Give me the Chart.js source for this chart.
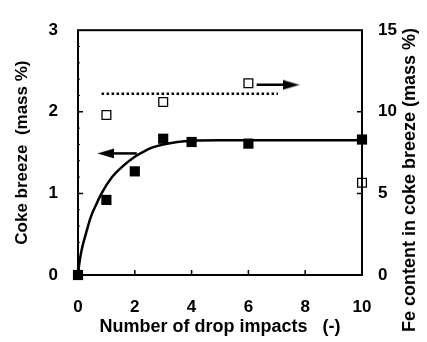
<!DOCTYPE html>
<html><head><meta charset="utf-8">
<script src="https://cdn.jsdelivr.net/npm/chart.js@4/dist/chart.umd.min.js"></script>
<style>html,body{margin:0;padding:0;background:#fff}#wrap{width:427px;height:342px}</style>
</head><body><div id="wrap"><canvas id="c" width="427" height="342"></canvas></div>
<script>
const dropImpacts = [0, 1, 2, 3, 4, 6, 10];
const cokeBreeze = [0, 0.92, 1.27, 1.67, 1.63, 1.61, 1.66];
const feImpacts = [1, 3, 6, 10];
const feContent = [9.8, 10.6, 11.75, 5.65];
const fitX = [0, 0.05, 0.13, 0.25, 0.45, 0.65, 0.83, 1.2, 1.6, 2.0, 2.3, 2.6, 3.0, 3.5, 4, 5, 6, 8, 10];
const fitY = [0, 0.15, 0.31, 0.47, 0.71, 0.87, 1.0, 1.2, 1.34, 1.45, 1.51, 1.56, 1.6, 1.63, 1.645, 1.65, 1.65, 1.65, 1.65];
const feMeanX = [0.83, 7.04];
const feMeanY = [11.1, 11.1];
const arrowRightX = [6.29, 7.5];
const arrowRightY = [2.33, 2.33];
const arrowLeftX = [2.07, 0.98];
const arrowLeftY = [1.49, 1.49];
const xTicks = [0, 2, 4, 6, 8, 10];
const leftTicks = [0, 1, 2, 3];
const rightTicks = [0, 5, 10, 15];

const pts = (xs, ys) => xs.map((x, i) => ({x, y: ys[i]}));
const FONT = "'Liberation Sans', Arial, sans-serif";

function arrowHead(dir) {
  const c = document.createElement('canvas');
  c.width = 17; c.height = 11;
  const g = c.getContext('2d');
  g.fillStyle = '#000';
  g.beginPath();
  if (dir > 0) { g.moveTo(0, 0.5); g.lineTo(17, 5.5); g.lineTo(0, 10.5); }
  else { g.moveTo(17, 0.5); g.lineTo(0, 5.5); g.lineTo(17, 10.5); }
  g.closePath(); g.fill();
  return c;
}
const headR = arrowHead(1), headL = arrowHead(-1);

const inwardTicks = {
  id: 'inwardTicks',
  afterDatasetsDraw(chart) {
    const {ctx, chartArea: a, scales} = chart;
    ctx.save();
    ctx.strokeStyle = '#000';
    ctx.lineWidth = 2;
    ctx.strokeRect(a.left, a.top, a.right - a.left, a.bottom - a.top);
    ctx.lineWidth = 1.5;
    ctx.beginPath();
    [2, 4, 6, 8].forEach(v => { const x = scales.x.getPixelForValue(v); ctx.moveTo(x, a.bottom); ctx.lineTo(x, a.bottom - 5); });
    [1, 2].forEach(v => { const y = scales.y.getPixelForValue(v); ctx.moveTo(a.left, y); ctx.lineTo(a.left + 5, y); });
    [5, 10].forEach(v => { const y = scales.y2.getPixelForValue(v); ctx.moveTo(a.right, y); ctx.lineTo(a.right - 5, y); });
    ctx.stroke();
    ctx.lineWidth = 1;
    ctx.beginPath();
    for (let v = 0.2; v < 3; v += 0.2) {
      const y = scales.y.getPixelForValue(v);
      ctx.moveTo(a.left, y); ctx.lineTo(a.left + 2, y);
    }
    ctx.stroke();
    ctx.restore();
  },
  afterDraw(chart) {
    const {ctx} = chart;
    ctx.save();
    ctx.font = "bold 18px " + FONT;
    ctx.fillStyle = '#000';
    ctx.textAlign = 'center';
    ctx.textBaseline = 'middle';
    ctx.translate(410, 180);
    ctx.rotate(-Math.PI / 2);
    ctx.fillText('Fe content in coke breeze (mass %)', 0, 0);
    ctx.restore();
  }
};

new Chart(document.getElementById('c'), {
  type: 'line',
  data: {
    datasets: [
      { data: pts(fitX, fitY), yAxisID: 'y', borderColor: '#000', borderWidth: 2.5, pointRadius: 0, cubicInterpolationMode: 'monotone', fill: false },
      { data: pts(feMeanX, feMeanY), yAxisID: 'y2', borderColor: '#000', borderWidth: 2.5, borderDash: [2.5, 2.5], pointRadius: 0, fill: false },
      { data: pts(arrowRightX, arrowRightY), yAxisID: 'y', borderColor: '#000', borderWidth: 2.5, pointRadius: [0, 8], pointStyle: [false, headR], fill: false },
      { data: pts(arrowLeftX, arrowLeftY), yAxisID: 'y', borderColor: '#000', borderWidth: 2.5, pointRadius: [0, 8], pointStyle: [false, headL], fill: false },
      { data: pts(dropImpacts, cokeBreeze), yAxisID: 'y', showLine: false, pointStyle: 'rect', pointRadius: 7.2, pointBackgroundColor: '#000', pointBorderColor: '#000', pointBorderWidth: 0 },
      { data: pts(feImpacts, feContent), yAxisID: 'y2', showLine: false, pointStyle: 'rect', pointRadius: 6.2, pointBackgroundColor: '#fff', pointBorderColor: '#000', pointBorderWidth: 1.3 }
    ]
  },
  options: {
    responsive: false,
    animation: false,
    clip: false,
    layout: { padding: { top: 29, right: 0, bottom: 0, left: 0 } },
    plugins: { legend: { display: false }, tooltip: { enabled: false } },
    scales: {
      x: {
        type: 'linear', min: 0, max: 10,
        afterBuildTicks: s => { s.ticks = xTicks.map(v => ({value: v})); },
        afterFit: s => { s.height = 67; },
        grid: { display: false, drawTicks: false }, border: { display: false },
        ticks: { color: '#000', padding: 22, font: { family: FONT, size: 17, weight: 'bold' } },
        title: { display: true, text: 'Number of drop impacts   (-)', color: '#000', padding: { top: 2 }, font: { family: FONT, size: 18, weight: 'bold' } }
      },
      y: {
        type: 'linear', position: 'left', min: 0, max: 3,
        afterBuildTicks: s => { s.ticks = leftTicks.map(v => ({value: v})); },
        afterFit: s => { s.width = 78; },
        grid: { display: false, drawTicks: false }, border: { display: false },
        ticks: { color: '#000', padding: 20, font: { family: FONT, size: 17, weight: 'bold' } },
        title: { display: true, text: 'Coke breeze  (mass %)', color: '#000', padding: { top: 12 }, font: { family: FONT, size: 17, weight: 'bold' } }
      },
      y2: {
        type: 'linear', position: 'right', min: 0, max: 15,
        afterBuildTicks: s => { s.ticks = rightTicks.map(v => ({value: v})); },
        afterFit: s => { s.width = 65; },
        grid: { display: false, drawTicks: false }, border: { display: false },
        ticks: { color: '#000', padding: 16, font: { family: FONT, size: 17, weight: 'bold' } }
      }
    }
  },
  plugins: [inwardTicks]
});
</script>
</body></html>
